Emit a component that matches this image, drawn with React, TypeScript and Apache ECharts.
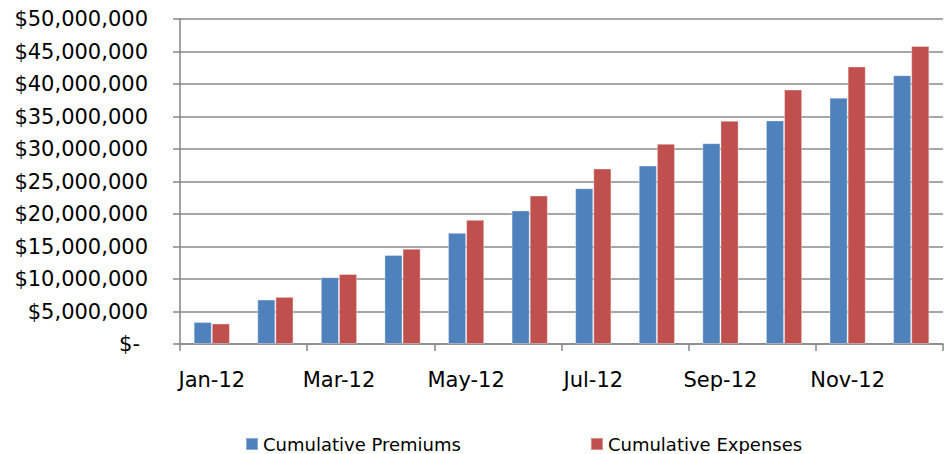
import React, { useEffect, useRef } from "react";
import * as echarts from "echarts";

const categories = [
  "Jan-12", "Feb-12", "Mar-12", "Apr-12", "May-12", "Jun-12",
  "Jul-12", "Aug-12", "Sep-12", "Oct-12", "Nov-12", "Dec-12",
];
const premiums = [
  3370000, 6840000, 10280000, 13700000, 17100000, 20550000,
  23970000, 27450000, 30900000, 34400000, 37900000, 41350000,
];
const expenses = [
  3160000, 7250000, 10780000, 14660000, 19100000, 22850000,
  27000000, 30800000, 34350000, 39150000, 42700000, 45850000,
];
const seriesNames = ["Cumulative Premiums", "Cumulative Expenses"];

const FONT = "DejaVu Sans";

function fmtMoney(v: number): string {
  if (v === 0) return "{z|$-}";
  return "$" + Math.round(v).toString().replace(/\B(?=(\d{3})+(?!\d))/g, ",");
}

export default function App() {
  const ref = useRef<HTMLDivElement>(null);
  useEffect(() => {
    document.body.style.margin = "0";
    if (!ref.current) return;
    const chart = echarts.init(ref.current, undefined, { renderer: "svg" });
    chart.setOption({
      animation: false,
      backgroundColor: "#ffffff",
      grid: { left: 180, right: 5, top: 19, bottom: 110, containLabel: false },
      legend: {
        left: 240,
        top: 429,
        itemWidth: 12,
        itemHeight: 12,
        itemGap: 129,
        icon: "rect",
        textStyle: { fontFamily: FONT, fontSize: 18, color: "#000", lineHeight: 20 },
        data: seriesNames,
      },
      xAxis: {
        type: "category",
        data: categories,
        axisLine: { lineStyle: { color: "#868686", width: 1.5 } },
        axisTick: { show: true, interval: 1, length: 7, lineStyle: { color: "#868686", width: 1.5 } },
        axisLabel: {
          interval: 1,
          margin: 25,
          fontFamily: FONT,
          fontSize: 21,
          color: "#000",
        },
      },
      yAxis: {
        type: "value",
        min: 0,
        max: 50000000,
        interval: 5000000,
        axisLine: { show: true, lineStyle: { color: "#868686", width: 1.5 } },
        axisTick: { show: true, length: 7, lineStyle: { color: "#868686", width: 1.5 } },
        splitLine: { lineStyle: { color: "#8a8a8a", width: 1.5 } },
        axisLabel: {
          margin: 32,
          fontFamily: FONT,
          fontSize: 21,
          color: "#000",
          formatter: fmtMoney,
          rich: { z: { fontFamily: FONT, fontSize: 21, color: "#000", padding: [0, 8, 0, 0] } },
        },
      },
      series: [
        {
          name: seriesNames[0],
          type: "bar",
          data: premiums,
          barGap: "0%",
          barCategoryGap: "43%",
          itemStyle: { color: "#4F81BD", borderColor: "rgba(255,255,255,0.35)", borderWidth: 1 },
        },
        {
          name: seriesNames[1],
          type: "bar",
          data: expenses,
          barGap: "0%",
          barCategoryGap: "43%",
          itemStyle: { color: "#C0504D", borderColor: "rgba(255,255,255,0.35)", borderWidth: 1 },
        },
      ],
    });
    return () => chart.dispose();
  }, []);
  return <div ref={ref} style={{ width: 948, height: 454 }} />;
}
